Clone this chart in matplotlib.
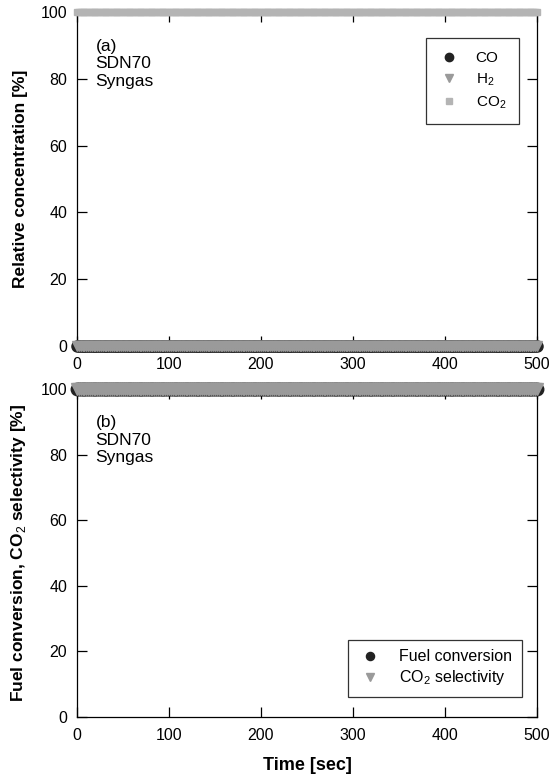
import matplotlib
matplotlib.use("Agg")
import matplotlib.pyplot as plt
import numpy as np

plt.rcParams["font.family"] = ["Liberation Sans", "DejaVu Sans"]
plt.rcParams["mathtext.fontset"] = "custom"
plt.rcParams["mathtext.rm"] = "Liberation Sans"
plt.rcParams["mathtext.bf"] = "Liberation Sans:bold"

# ---------------------------------------------------------------------------
# Data (flat traces over 0-500 s)
# ---------------------------------------------------------------------------
time_s = np.arange(0, 501, 2)
n = len(time_s)

co_pct = [0.0] * n
h2_pct = [0.0] * n
co2_pct = [100.0] * n

fuel_conv = [100.0] * n
co2_select = [100.0] * n

x_ticks = [0, 100, 200, 300, 400, 500]
y_ticks = [0, 20, 40, 60, 80, 100]

BLACK = "#222222"
GRAY = "#9a9a9a"
LIGHT = "#b4b4b4"

fig = plt.figure(figsize=(5.49, 7.77), dpi=100)
W, H = 549, 777
ax_a = fig.add_axes([77 / W, 1 - 346 / H, (537 - 77) / W, (346 - 12) / H])
ax_b = fig.add_axes([77 / W, 1 - 717 / H, (537 - 77) / W, (717 - 389) / H])

for ax in (ax_a, ax_b):
    ax.set_xlim(0, 500)
    ax.set_ylim(0, 100)
    ax.set_xticks(x_ticks)
    ax.set_yticks(y_ticks)
    ax.tick_params(direction="in", top=True, right=True, length=7,
                   width=0.9, labelsize=11.5)
    ax.tick_params(axis="x", pad=8)
    ax.tick_params(axis="y", pad=7)
    for s in ax.spines.values():
        s.set_linewidth(0.9)

# (a) relative concentration
ax_a.plot(time_s, co_pct, "o", color=BLACK, ms=8, mec=BLACK, clip_on=False,
          label="CO", zorder=3)
ax_a.plot(time_s, h2_pct, "v", color=GRAY, ms=7, mec=GRAY, clip_on=False,
          label="H$_2$", zorder=4)
ax_a.plot(time_s, co2_pct, "s", color=LIGHT, ms=5, mec=LIGHT, clip_on=False,
          label="CO$_2$", zorder=4)
ax_a.set_ylabel("Relative concentration [%]", fontsize=12.5, fontweight="bold",
                labelpad=9)
ax_a.text(0.04, 0.92, "(a)\nSDN70\nSyngas", transform=ax_a.transAxes,
          va="top", ha="left", fontsize=12.5, linespacing=1.2)
leg = ax_a.legend(loc="upper right", bbox_to_anchor=(0.961, 0.922),
                  fontsize=11, frameon=True, fancybox=False, edgecolor="black",
                  markerscale=0.75, handletextpad=1.1, borderpad=0.85,
                  labelspacing=0.4, handlelength=1.3, borderaxespad=0)
leg.get_frame().set_linewidth(0.9)

# (b) fuel conversion / CO2 selectivity
ax_b.plot(time_s, fuel_conv, "o", color=BLACK, ms=9, mec=BLACK, clip_on=False,
          label="Fuel conversion", zorder=3)
ax_b.plot(time_s, co2_select, "v", color=GRAY, ms=8, mec=GRAY, clip_on=False,
          label="CO$_2$ selectivity", zorder=4)
ax_b.set_ylabel("Fuel conversion, CO$_2$ selectivity [%]", fontsize=12.5,
                fontweight="bold", labelpad=9)
ax_b.set_xlabel("Time [sec]", fontsize=13, fontweight="bold", labelpad=10)
ax_b.text(0.04, 0.92, "(b)\nSDN70\nSyngas", transform=ax_b.transAxes,
          va="top", ha="left", fontsize=12.5, linespacing=1.2)
leg = ax_b.legend(loc="lower right", bbox_to_anchor=(0.967, 0.061),
                  fontsize=11.5, frameon=True, fancybox=False, edgecolor="black",
                  markerscale=0.65, handletextpad=1.0, borderpad=0.6,
                  labelspacing=0.25, handlelength=1.6, borderaxespad=0)
leg.get_frame().set_linewidth(0.9)

fig.savefig("out.png", dpi=100)
